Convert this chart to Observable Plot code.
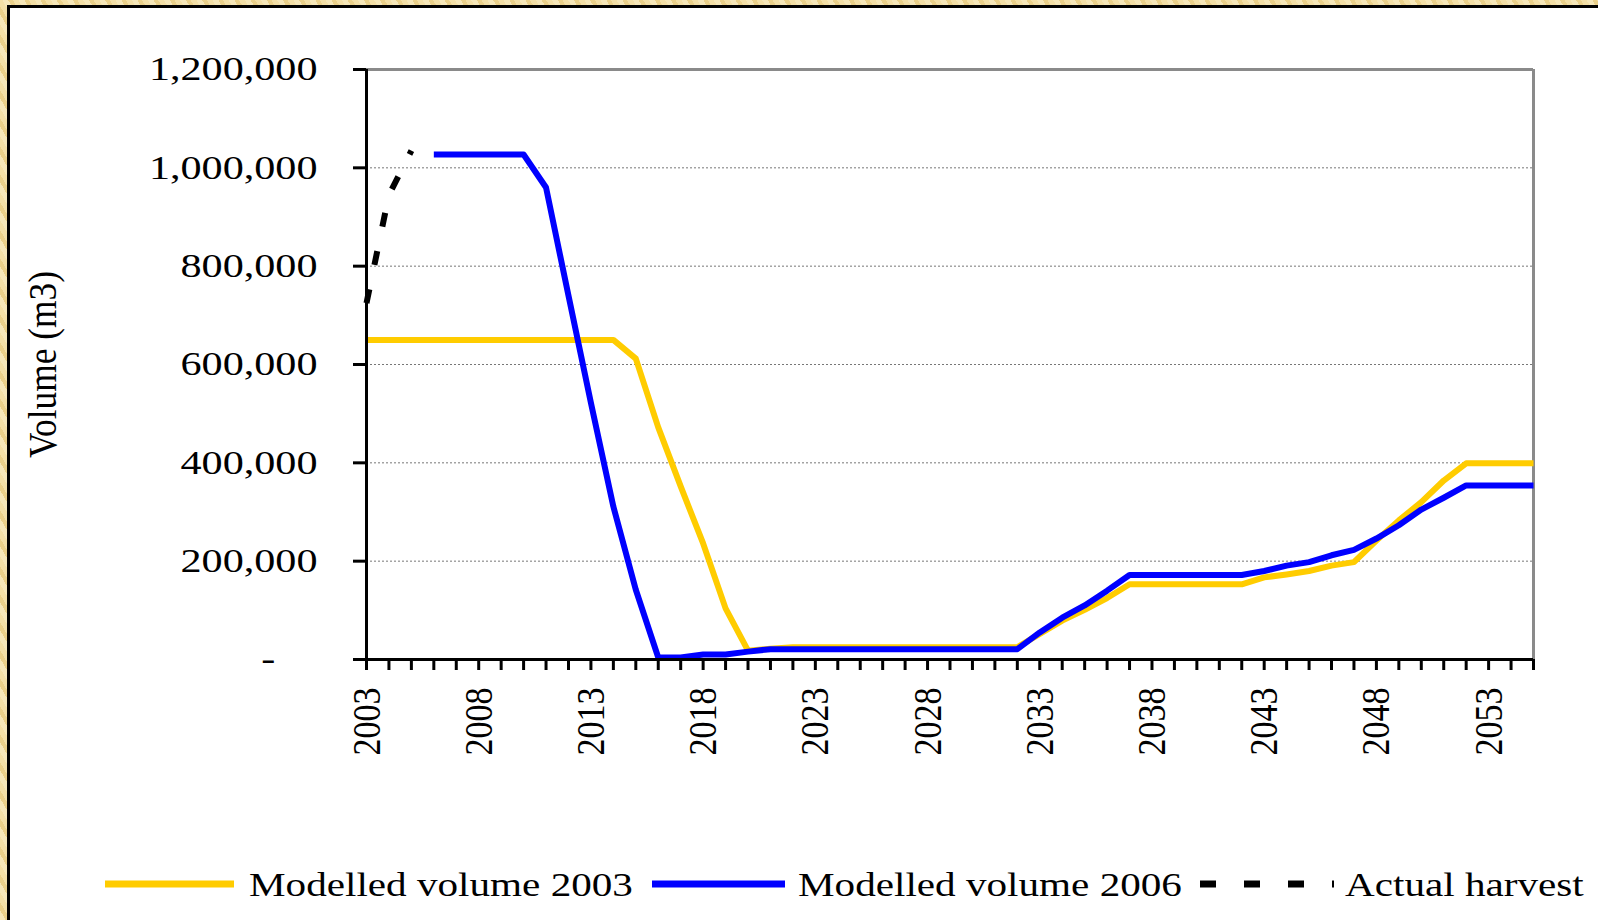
<!DOCTYPE html>
<html><head><meta charset="utf-8">
<script src="https://cdn.jsdelivr.net/npm/d3@7"></script>
<script src="https://cdn.jsdelivr.net/npm/@observablehq/plot@0.6"></script>
<style>
html,body{margin:0;padding:0;width:1598px;height:920px;overflow:hidden;}
body{background:repeating-linear-gradient(60deg,#f6e7b9 0 5px,#ead08a 5px 9px,#f3dfa6 9px 14px);}
#frame{position:absolute;left:7px;top:5px;right:0;bottom:0;background:#fff;border-left:3px solid #000;border-top:3px solid #000;}
#chart{position:absolute;left:0;top:0;}
#legend{position:absolute;left:0;top:850px;}
#chart svg text,#legend text{font-family:"Liberation Serif","Times New Roman",serif;fill:#000;}
</style></head><body>
<div id="frame"></div><div id="chart"></div><svg id="legend" width="1598" height="70"></svg>
<script>
const years = [2003,2004,2005,2006,2007,2008,2009,2010,2011,2012,2013,2014,2015,2016,2017,2018,2019,2020,
  2021,2022,2023,2024,2025,2026,2027,2028,2029,2030,2031,2032,2033,2034,2035,2036,2037,2038,2039,2040,
  2041,2042,2043,2044,2045,2046,2047,2048,2049,2050,2051,2052,2053,2054,2055];
const modelled2003 = [650000,650000,650000,650000,650000,650000,650000,650000,650000,650000,650000,650000,
  612000,472000,352000,236000,104000,18000,22000,
  25000,25000,25000,25000,25000,25000,25000,25000,25000,25000,25000,
  52000,79000,101000,125000,
  153000,153000,153000,153000,153000,153000,
  167000,173000,180000,191000,198000,
  242000,283000,320000,364000,
  399000,399000,399000,399000];
const modelled2006 = [null,null,null,1027000,1027000,1027000,1027000,1027000,
  960000,740000,522000,311000,142000,4000,4000,10000,10000,16000,
  21000,21000,21000,21000,21000,21000,21000,21000,21000,21000,21000,21000,
  55000,85000,110000,140000,
  172000,172000,172000,172000,172000,172000,
  180000,191000,198000,212000,223000,246000,273000,305000,329000,
  354000,354000,354000,354000];
const actualYears = [2003,2004,2005];
const actualHarvest = [725000,945000,1035000];
const yTicks = [0,200000,400000,600000,800000,1000000,1200000];
const yTickLabels = ["-\u2002\u2002","200,000","400,000","600,000","800,000","1,000,000","1,200,000"];
const xLabelYears = [2003,2008,2013,2018,2023,2028,2033,2038,2043,2048,2053];
const seriesNames = ["Modelled volume 2003","Modelled volume 2006","Actual harvest"];
const seriesColors = ["#FFCC00","#0000FF","#000000"];

const yLabelMap = new Map(yTicks.map((t,i)=>[t,yTickLabels[i]]));
const rows2003 = years.map((year,i)=>({year,value:modelled2003[i]}));
const rows2006 = years.map((year,i)=>({year,value:modelled2006[i]})).filter(d=>d.value!=null);
const rowsActual = actualYears.map((year,i)=>({year,value:actualHarvest[i]}));

const chart = Plot.plot({
  width:1598, height:770,
  marginLeft:366, marginRight:65, marginTop:69, marginBottom:111,
  x:{type:"linear", domain:[2003,2055], label:null},
  y:{domain:[0,1200000], label:null},
  style:{background:"none", color:"black", fontFamily:"Liberation Serif", fontSize:"34px", overflow:"visible"},
  marks:[
    Plot.ruleY(yTicks.filter(v=>v>0 && v<1200000), {stroke:"#777", strokeWidth:1, strokeDasharray:"2,2"}),
    Plot.ruleY([1200000], {stroke:"#8a8a8a", strokeWidth:3}),
    Plot.ruleX([2055], {stroke:"#8a8a8a", strokeWidth:3}),
    Plot.line(rows2003, {x:"year", y:"value", stroke:seriesColors[0], strokeWidth:6, strokeLinecap:"butt"}),
    Plot.line(rows2006, {x:"year", y:"value", stroke:seriesColors[1], strokeWidth:6, strokeLinecap:"butt"}),
    Plot.line(rowsActual, {x:"year", y:"value", stroke:seriesColors[2], strokeWidth:6, strokeLinecap:"butt", strokeDasharray:"14,25"}),
    Plot.ruleX([2003], {stroke:"black", strokeWidth:3}),
    Plot.ruleY([0], {stroke:"black", strokeWidth:3}),
    Plot.axisY({ticks:yTicks, tickSize:13, strokeWidth:3, tickFormat:()=>"", label:null}),
    Plot.axisY({ticks:yTicks, tickSize:0, tickPadding:49, tickFormat:d=>yLabelMap.get(d), label:null}),
    Plot.axisX({ticks:years, tickSize:11, strokeWidth:3, tickFormat:()=>"", label:null}),
    Plot.axisX({ticks:xLabelYears, tickSize:0, tickPadding:28, tickRotate:-90, tickFormat:d=>String(d), label:null}),
    Plot.text(["Volume (m3)"], {frameAnchor:"left", rotate:-90, dx:-323, fontSize:34, textAnchor:"middle"})
  ]
});
document.getElementById("chart").appendChild(chart);

// horizontal glyph stretch of the original artwork
chart.querySelectorAll('g[aria-label="y-axis tick label"] text').forEach(t=>{
  const L = t.getComputedTextLength();
  t.setAttribute("textLength", L*1.24);
  t.setAttribute("lengthAdjust","spacingAndGlyphs");
});
chart.querySelectorAll('g[aria-label="x-axis tick label"] text').forEach(t=>{
  const tr = t.getAttribute("transform") || "";
  t.setAttribute("transform", tr + " scale(1,1.2)");
});
chart.querySelectorAll('g[aria-label="text"] text').forEach(t=>{
  const tr = t.getAttribute("transform") || "";
  t.setAttribute("transform", tr + " scale(1.04,1.15)");
});

// legend below the plot
const lg = d3.select("#legend");
const items = [
  {x1:105, x2:234, tx:249, dash:null},
  {x1:652, x2:785, tx:798, dash:null},
  {x1:1200, x2:1334, tx:1345, dash:"16,28"}
];
items.forEach((it,i)=>{
  lg.append("line").attr("x1",it.x1).attr("x2",it.x2).attr("y1",34).attr("y2",34)
    .attr("stroke",seriesColors[i]).attr("stroke-width",7)
    .attr("stroke-dasharray",it.dash);
  const t = lg.append("text").attr("x",it.tx).attr("y",46).attr("font-size",34).text(seriesNames[i]);
  const L = t.node().getComputedTextLength();
  t.attr("textLength", L*1.21).attr("lengthAdjust","spacingAndGlyphs");
});
</script>
</body></html>
